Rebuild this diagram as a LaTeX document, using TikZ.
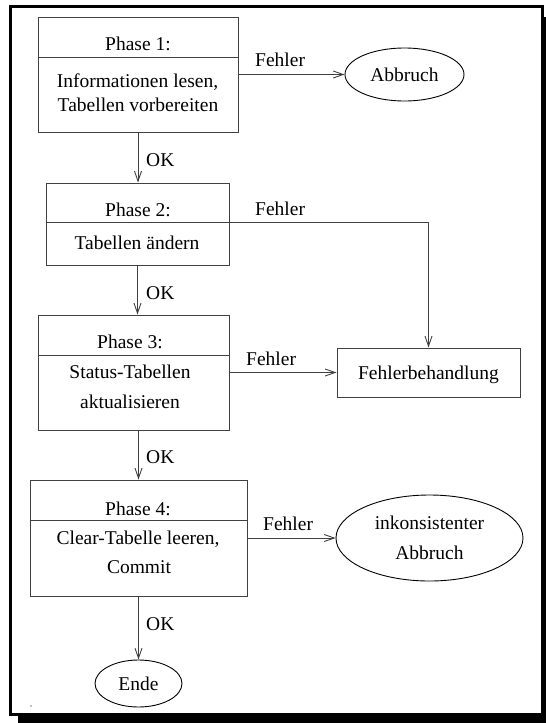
\documentclass[tikz,border=0pt]{standalone}
\usepackage{fontspec}
\setmainfont{Liberation Serif}
\usetikzlibrary{arrows.meta,shapes.geometric}
\begin{document}
\begin{tikzpicture}[x=1pt,y=-1pt,
  lbl/.style={font=\fontsize{19.5}{30}\selectfont, inner sep=0pt, anchor=base},
  lblw/.style={lbl, anchor=base west},
  phasebox/.style={draw=black!75, line width=1pt, inner sep=0pt},
  endnode/.style={draw=black, line width=0.9pt, ellipse, inner sep=0pt,
    font=\fontsize{19.5}{30}\selectfont, align=center, text depth=0pt},
  arr/.style={draw=black!75, line width=1pt,
    -{Straight Barb[length=10pt,width=7pt,line width=0.9pt]}},
  divider/.style={draw=black!75, line width=1pt}]

% canvas and framed page with drop shadow
\useasboundingbox (0,0) rectangle (546,723);
\draw[line width=3pt] (10,6.5) rectangle (542.3,714.8);
\fill (543.8,17) rectangle (546,723);
\fill (18,716.3) rectangle (546,723);
\fill (31,706) circle (0.7);

% phase boxes
\node[phasebox, minimum width=200pt, minimum height=115pt] (p1) at (138,74.5) {};
\node[phasebox, minimum width=183pt, minimum height=82pt]  (p2) at (137.5,224) {};
\node[phasebox, minimum width=191pt, minimum height=115pt] (p3) at (133.5,372.5) {};
\node[phasebox, minimum width=217pt, minimum height=116pt] (p4) at (138.5,538) {};

% header dividers
\path (p1.north west) ++(0,41) coordinate (d1l) (p1.north east) ++(0,41) coordinate (d1r);
\path (p2.north west) ++(0,40) coordinate (d2l) (p2.north east) ++(0,40) coordinate (d2r);
\path (p3.north west) ++(0,41) coordinate (d3l) (p3.north east) ++(0,41) coordinate (d3r);
\path (p4.north west) ++(0,41) coordinate (d4l) (p4.north east) ++(0,41) coordinate (d4r);
\draw[divider] (d1l) -- (d1r);
\draw[divider] (d2l) -- (d2r);
\draw[divider] (d3l) -- (d3r);
\draw[divider] (d4l) -- (d4r);

% box texts
\node[lbl] (t1h) at (138,50)  {Phase 1:};
\node[lbl] (t1a) at (137.5,87) {Informationen lesen,};
\node[lbl] (t1b) at (138,111) {Tabellen vorbereiten};
\node[lbl] (t2h) at (138,216) {Phase 2:};
\node[lbl] (t2a) at (137,249) {Tabellen ändern};
\node[lbl] (t3h) at (130,348) {Phase 3:};
\node[lbl] (t3a) at (130,378) {Status-Tabellen};
\node[lbl] (t3b) at (130,408) {aktualisieren};
\node[lbl] (t4h) at (138,515) {Phase 4:};
\node[lbl] (t4a) at (138,544) {Clear-Tabelle leeren,};
\node[lbl] (t4b) at (139,573) {Commit};

% outcomes
\node[endnode, minimum width=119pt, minimum height=53pt] (abbr) at (404.5,74.5) {Abbruch};
\node[phasebox, minimum width=183pt, minimum height=49pt,
      font=\fontsize{19.5}{30}\selectfont, text depth=0pt] (fb) at (428.5,372.5) {Fehlerbehandlung};
\node[endnode, minimum width=187pt, minimum height=86pt] (ink) at (429.5,538) {inkonsistenter\\Abbruch};
\node[endnode, minimum width=87pt, minimum height=47pt] (ende) at (138.5,683.5) {Ende};

% OK flow
\draw[arr] (p1.south) -- (p1.south |- p2.north);
\draw[arr] (p2.south) -- (p2.south |- p3.north);
\draw[arr] (p4.north |- p3.south) -- (p4.north);
\draw[arr] (p4.south) -- (ende.north);
\node[lblw] (ok1) at (146,166) {OK};
\node[lblw] (ok2) at (146,299) {OK};
\node[lblw] (ok3) at (146,463) {OK};
\node[lblw] (ok4) at (146,630) {OK};

% error flow
\draw[arr] (p1.east) -- (abbr.west);
\draw[arr] (d2r) -| (fb.north);
\draw[arr] (p3.east |- fb.west) -- (fb.west);
\draw[arr] (p4.east) -- (ink.west);
\node[lblw] (f1) at (255,66)  {Fehler};
\node[lblw] (f2) at (255,215) {Fehler};
\node[lblw] (f3) at (246,365) {Fehler};
\node[lblw] (f4) at (263,530) {Fehler};
\end{tikzpicture}
\end{document}
